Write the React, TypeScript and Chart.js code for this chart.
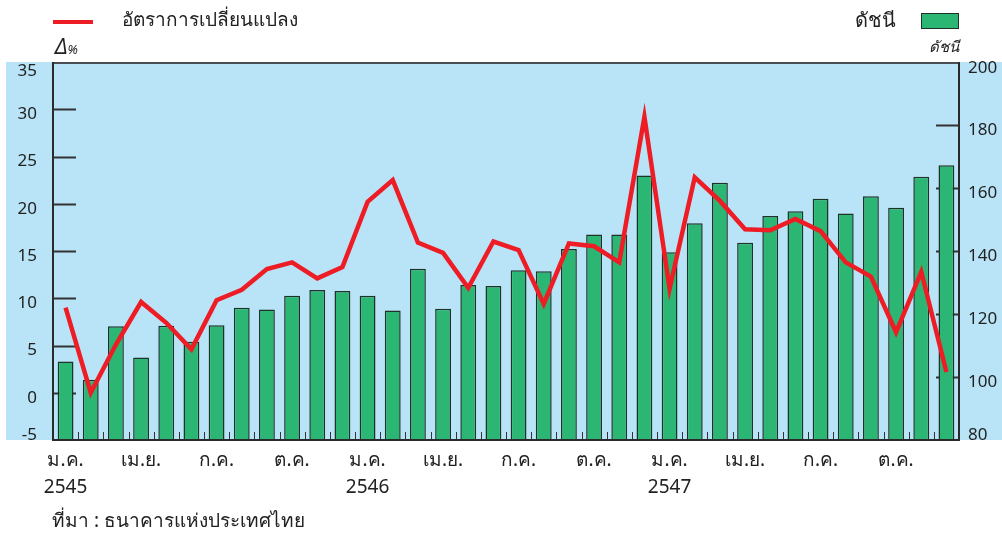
import React, { useEffect, useRef } from 'react';
import { Chart, registerables } from 'chart.js';

Chart.register(...registerables);

// ---- data ----
const monthNames = ['ม.ค.', 'ก.พ.', 'มี.ค.', 'เม.ย.', 'พ.ค.', 'มิ.ย.', 'ก.ค.', 'ส.ค.', 'ก.ย.', 'ต.ค.', 'พ.ย.', 'ธ.ค.'];
const yearNames = ['2545', '2546', '2547'];
const categories = yearNames.flatMap((y) => monthNames.map((m) => `${m} ${y}`));

// index (right axis, bars)
const indexValues = [
  104.9, 99.1, 116.1, 106.2, 116.3, 111.2, 116.4, 122.0, 121.4, 125.8, 127.6, 127.3,
  125.8, 121.1, 134.4, 121.7, 129.2, 128.9, 133.9, 133.6, 140.6, 145.2, 145.2, 164.0,
  139.6, 148.8, 161.7, 142.6, 151.1, 152.6, 156.6, 151.9, 157.4, 153.7, 163.6, 167.2,
];

// rate of change (left axis, line)
const changeValues = [
  9.0, 0.0, 5.1, 9.6, 7.4, 4.6, 9.8, 10.9, 13.1, 13.8, 12.1, 13.3,
  20.2, 22.5, 15.9, 14.8, 11.1, 16.0, 15.1, 9.4, 15.8, 15.5, 13.8, 29.2,
  11.0, 22.8, 20.3, 17.3, 17.2, 18.4, 17.1, 13.8, 12.3, 6.4, 12.8, 2.2,
];

const leftTicks = [35, 30, 25, 20, 15, 10, 5, 0, -5];
const rightTicks = [200, 180, 160, 140, 120, 100, 80];

const lineLabel = 'อัตราการเปลี่ยนแปลง';
const barLabel = 'ดัชนี';
const sourceText = 'ที่มา : ธนาคารแห่งประเทศไทย';

const FONT = '"Noto Sans", "Open Sans", sans-serif';
const BG_BLUE = '#b9e4f8';
const BAR_GREEN = '#2bb673';
const LINE_RED = '#ee1c25';
const AXIS = '#2a2a2a';

const decorPlugin = {
  id: 'decor',
  beforeDraw(chart: any) {
    const { ctx, chartArea } = chart;
    ctx.save();
    ctx.fillStyle = BG_BLUE;
    ctx.fillRect(6, chartArea.top, chart.width - 6, chartArea.bottom - chartArea.top);
    ctx.restore();
  },
  beforeDatasetsDraw(chart: any) {
    const { ctx, chartArea, scales } = chart;
    const y = scales.y;
    const y1 = scales.y1;
    const x = scales.x;
    ctx.save();
    ctx.strokeStyle = '#333';
    ctx.lineWidth = 2;
    leftTicks.forEach((v) => {
      if (v >= 35 || v <= -5) return;
      const py = Math.round(y.getPixelForValue(v)) + 0.5;
      ctx.beginPath();
      ctx.moveTo(chartArea.left, py);
      ctx.lineTo(chartArea.left + 23, py);
      ctx.stroke();
    });
    rightTicks.forEach((v) => {
      if (v >= 200 || v <= 80) return;
      const py = Math.round(y1.getPixelForValue(v)) + 0.5;
      ctx.beginPath();
      ctx.moveTo(chartArea.right - 23, py);
      ctx.lineTo(chartArea.right, py);
      ctx.stroke();
    });
    ctx.lineWidth = 1;
    for (let i = 1; i < categories.length; i++) {
      const px = Math.round((x.getPixelForValue(i - 1) + x.getPixelForValue(i)) / 2) + 0.5;
      ctx.beginPath();
      ctx.moveTo(px, chartArea.bottom);
      ctx.lineTo(px, chartArea.bottom - 8);
      ctx.stroke();
    }
    ctx.restore();
  },
  afterDraw(chart: any) {
    const { ctx, chartArea, scales } = chart;
    ctx.save();
    // frame
    ctx.strokeStyle = '#4a4f55';
    ctx.lineWidth = 2;
    ctx.beginPath();
    ctx.moveTo(chartArea.left, chartArea.top + 1);
    ctx.lineTo(chartArea.right, chartArea.top + 1);
    ctx.stroke();
    ctx.strokeStyle = AXIS;
    ctx.beginPath();
    ctx.moveTo(chartArea.left, chartArea.top);
    ctx.lineTo(chartArea.left, chartArea.bottom);
    ctx.lineTo(chartArea.right, chartArea.bottom);
    ctx.lineTo(chartArea.right, chartArea.top);
    ctx.stroke();
    // axis labels
    ctx.fillStyle = '#222';
    ctx.font = `17px ${FONT}`;
    ctx.textBaseline = 'middle';
    ctx.textAlign = 'right';
    leftTicks.forEach((v) => {
      let py = scales.y.getPixelForValue(v) + 5;
      py = Math.min(Math.max(py, chartArea.top + 9), chartArea.bottom - 5);
      ctx.fillText(String(v), chartArea.left - 16, py);
    });
    ctx.textAlign = 'left';
    rightTicks.forEach((v) => {
      let py = scales.y1.getPixelForValue(v) + 5;
      py = Math.min(Math.max(py, chartArea.top + 6), chartArea.bottom - 5);
      ctx.fillText(String(v), chartArea.right + 9, py);
    });
    ctx.restore();
  },
};

export default function App() {
  const canvasRef = useRef<HTMLCanvasElement | null>(null);

  useEffect(() => {
    if (!canvasRef.current) return;
    const chart = new Chart(canvasRef.current, {
      type: 'bar',
      data: {
        labels: categories,
        datasets: [
          {
            type: 'line',
            label: lineLabel,
            data: changeValues,
            yAxisID: 'y',
            borderColor: LINE_RED,
            backgroundColor: LINE_RED,
            borderWidth: 4.5,
            pointRadius: 0,
            tension: 0,
            borderJoinStyle: 'miter',
            order: 0,
          } as any,
          {
            type: 'bar',
            label: barLabel,
            data: indexValues,
            yAxisID: 'y1',
            backgroundColor: BAR_GREEN,
            borderColor: '#1e3328',
            borderWidth: 1.5,
            barPercentage: 0.63,
            categoryPercentage: 1,
            order: 1,
          } as any,
        ],
      },
      options: {
        responsive: false,
        animation: false,
        devicePixelRatio: 1,
        layout: { padding: { top: 62, left: 0, right: 0, bottom: 0 } },
        plugins: {
          legend: { display: false },
          tooltip: { enabled: false },
        },
        scales: {
          x: {
            type: 'category',
            offset: true,
            grid: { display: false, drawTicks: false },
            border: { display: false },
            ticks: {
              autoSkip: false,
              maxRotation: 0,
              minRotation: 0,
              padding: 7,
              color: '#222',
              font: { family: FONT, size: 19, lineHeight: 27 / 19 },
              callback: (_v: any, i: number) => {
                if (i % 3 !== 0) return '';
                const m = monthNames[i % 12];
                if (i % 12 === 0) return [m, yearNames[i / 12]];
                return m;
              },
            },
            afterFit: (s: any) => {
              s.height = 93;
            },
          },
          y: {
            position: 'left',
            min: -5,
            max: 35,
            grid: { display: false, drawTicks: false },
            border: { display: false },
            ticks: { display: false, stepSize: 5 },
            afterFit: (s: any) => {
              s.width = 53;
            },
          },
          y1: {
            position: 'right',
            min: 80,
            max: 200,
            grid: { display: false, drawTicks: false },
            border: { display: false },
            ticks: { display: false, stepSize: 20 },
            afterFit: (s: any) => {
              s.width = 43;
            },
          },
        },
      } as any,
      plugins: [decorPlugin],
    });
    return () => chart.destroy();
  }, []);

  const text: React.CSSProperties = {
    position: 'absolute',
    fontFamily: FONT,
    color: '#222',
    whiteSpace: 'nowrap',
    lineHeight: 1,
  };

  return (
    <div style={{ position: 'absolute', left: 0, top: 0, width: 1002, height: 533, background: '#fff', overflow: 'hidden' }}>
      <canvas ref={canvasRef} width={1002} height={533} style={{ position: 'absolute', left: 0, top: 0, width: 1002, height: 533 }} />
      <div style={{ position: 'absolute', left: 53, top: 20, width: 40, height: 4, background: LINE_RED }} />
      <div style={{ ...text, left: 122, top: 10, fontSize: 19 }}>{lineLabel}</div>
      <div style={{ ...text, left: 855, top: 10, fontSize: 20 }}>{barLabel}</div>
      <div style={{ position: 'absolute', left: 921, top: 13, width: 36, height: 14, background: BAR_GREEN, border: '1px solid #1e3328' }} />
      <div style={{ ...text, left: 55, top: 36, fontSize: 21, fontStyle: 'italic' }}>
        Δ<span style={{ fontSize: 13 }}>%</span>
      </div>
      <div style={{ ...text, left: 929, top: 39, fontSize: 15, fontStyle: 'italic' }}>{barLabel}</div>
      <div style={{ ...text, left: 52, top: 511, fontSize: 19 }}>{sourceText}</div>
    </div>
  );
}
